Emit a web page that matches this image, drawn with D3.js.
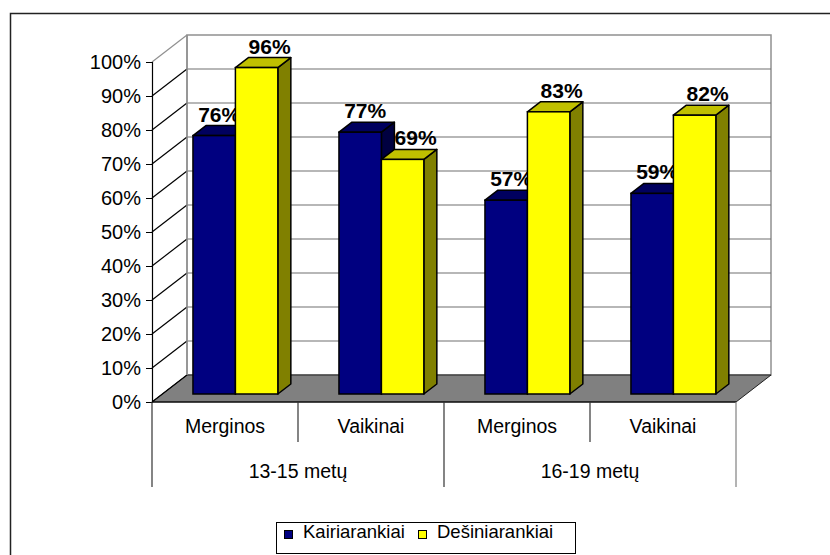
<!DOCTYPE html>
<meta charset="utf-8">
<head>
<script src="https://d3js.org/d3.v7.min.js"></script>
<style>
  body { margin: 0; background: #fff; }
  text { font-family: "Liberation Sans", Arial, sans-serif; fill: #000; }
</style>
</head>
<body>
<svg id="chart" width="830" height="555"></svg>
<script>
// data
var categories = ["Merginos", "Vaikinai", "Merginos", "Vaikinai"];
var groups = ["13-15 metų", "16-19 metų"];
var series = ["Kairiarankiai", "Dešiniarankiai"];
var kairiarankiai = [0.76, 0.77, 0.57, 0.59];
var desiniarankiai = [0.96, 0.69, 0.83, 0.82];
var yTicks = [0, 0.1, 0.2, 0.3, 0.4, 0.5, 0.6, 0.7, 0.8, 0.9, 1];

var values = [kairiarankiai, desiniarankiai];
var colors = [
  { front: "#000080", top: "#00005e", side: "#000040" },
  { front: "#ffff00", top: "#c0c000", side: "#808000" }
];

var svg = d3.select("#chart");

// outer frame (runs off the picture on the right and bottom)
svg.append("rect")
  .attr("x", 10.5).attr("y", 13.5)
  .attr("width", 900).attr("height", 700)
  .attr("fill", "none").attr("stroke", "#222").attr("stroke-width", 1.5);

// 3d depth of the walls
var depthX = 35, depthY = -27;
var left = 152, right = 736;

var y = d3.scaleLinear().domain([0, 1]).range([402, 62]);
var x = d3.scaleBand().domain(d3.range(categories.length)).range([left, right]);
var xs = d3.scaleBand().domain(d3.range(series.length))
  .range([0, x.bandwidth()]).paddingOuter(0.72);

// left wall
svg.append("path")
  .attr("d", d3.line()([[left, y(0)], [left, y(1)], [left + depthX, y(1) + depthY], [left + depthX, y(0) + depthY]]) + "Z")
  .attr("fill", "#fff");

// back wall
svg.append("rect")
  .attr("x", left + depthX).attr("y", y(1) + depthY)
  .attr("width", right - left).attr("height", y(0) - y(1))
  .attr("fill", "#fff").attr("stroke", "#909090").attr("stroke-width", 1.5);

// back wall gridlines
svg.append("g").selectAll("line")
  .data(yTicks.slice(1, -1))
  .enter().append("line")
  .attr("x1", left + depthX).attr("x2", right + depthX)
  .attr("y1", function (d) { return y(d) + depthY; })
  .attr("y2", function (d) { return y(d) + depthY; })
  .attr("stroke", "#707070").attr("stroke-width", 1.2);

// floor
svg.append("path")
  .attr("d", d3.line()([[left, y(0)], [left + depthX, y(0) + depthY], [right + depthX, y(0) + depthY], [right, y(0)]]) + "Z")
  .attr("fill", "#808080").attr("stroke", "#202020").attr("stroke-width", 1);

// side wall gridlines
svg.append("g").selectAll("line")
  .data(yTicks)
  .enter().append("line")
  .attr("x1", left).attr("x2", left + depthX)
  .attr("y1", function (d) { return y(d); })
  .attr("y2", function (d) { return y(d) + depthY; })
  .attr("stroke", function (d) { return d == 1 ? "#909090" : "#000"; })
  .attr("stroke-width", 1.2);
svg.append("line")
  .attr("x1", left + depthX).attr("x2", left + depthX)
  .attr("y1", y(1) + depthY).attr("y2", y(0) + depthY)
  .attr("stroke", "#909090").attr("stroke-width", 1.5);

// value axis
var yAxis = d3.axisLeft(y).tickValues(yTicks).tickSize(6).tickPadding(5)
  .tickFormat(d3.format(".0%"));
var gy = svg.append("g").attr("transform", "translate(" + left + ",0)").call(yAxis);
gy.select(".domain").attr("stroke", "#000").attr("stroke-width", 1.2);
gy.selectAll(".tick line").attr("stroke", "#000");
gy.selectAll("text").style("font-size", "20px").attr("fill", "#000")
  .style("font-family", "'Liberation Sans', Arial, sans-serif");

// bars
var barDX = 10.4, barDY = -8;   // front face sits this far into the floor
var topDX = 13, topDY = -10;    // bar depth
var labelShift = [5, 13];       // labels sit a little right of the front face
var bars = svg.append("g");
categories.forEach(function (c, i) {
  series.forEach(function (s, j) {
    var v = values[j][i];
    var x0 = x(i) + xs(j) + barDX;
    var w = xs.bandwidth();
    var yt = y(v) + barDY, yb = y(0) + barDY;
    var g = bars.append("g");
    g.append("path")
      .attr("d", d3.line()([[x0 + w, yb], [x0 + w, yt], [x0 + w + topDX, yt + topDY], [x0 + w + topDX, yb + topDY]]) + "Z")
      .attr("fill", colors[j].side).attr("stroke", "#000").attr("stroke-width", 1.5).attr("stroke-linejoin", "round");
    g.append("path")
      .attr("d", d3.line()([[x0, yt], [x0 + w, yt], [x0 + w + topDX, yt + topDY], [x0 + topDX, yt + topDY]]) + "Z")
      .attr("fill", colors[j].top).attr("stroke", "#000").attr("stroke-width", 1.5).attr("stroke-linejoin", "round");
    g.append("rect")
      .attr("x", x0).attr("y", yt).attr("width", w).attr("height", yb - yt)
      .attr("fill", colors[j].front).attr("stroke", "#000").attr("stroke-width", 1.5);
    g.append("text")
      .attr("x", x0 + w / 2 + labelShift[j]).attr("y", y(v) - 22)
      .attr("text-anchor", "middle")
      .style("font-size", "21px").style("font-weight", "bold")
      .text(d3.format(".0%")(v));
  });
});

// category axis
var axis = svg.append("g");
axis.append("line")
  .attr("x1", left).attr("x2", right).attr("y1", y(0)).attr("y2", y(0))
  .attr("stroke", "#000").attr("stroke-width", 1.2);
d3.range(categories.length + 1).forEach(function (i) {
  var xx = i < categories.length ? x(i) : right;
  axis.append("line")
    .attr("x1", xx).attr("x2", xx)
    .attr("y1", y(0)).attr("y2", i % 2 == 0 ? 487 : 442)
    .attr("stroke", i == categories.length ? "#808080" : "#333").attr("stroke-width", 1.2);
});
axis.selectAll("text.cat")
  .data(categories)
  .enter().append("text")
  .attr("class", "cat")
  .attr("x", function (d, i) { return x(i) + x.bandwidth() / 2; })
  .attr("y", 433)
  .attr("text-anchor", "middle")
  .style("font-size", "19.5px")
  .text(function (d) { return d; });
axis.selectAll("text.grp")
  .data(groups)
  .enter().append("text")
  .attr("class", "grp")
  .attr("x", function (d, i) { return x(i * 2) + x.bandwidth(); })
  .attr("y", 478)
  .attr("text-anchor", "middle")
  .style("font-size", "19.5px")
  .text(function (d) { return d; });

// legend
var legend = svg.append("g");
legend.append("rect")
  .attr("x", 276.5).attr("y", 522.5).attr("width", 299).attr("height", 31)
  .attr("fill", "#fff").attr("stroke", "#000").attr("stroke-width", 1);
var legendX = [284, 418];
series.forEach(function (s, j) {
  legend.append("rect")
    .attr("x", legendX[j] + 0.5).attr("y", 530.5).attr("width", 8).attr("height", 8)
    .attr("fill", colors[j].front).attr("stroke", "#000").attr("stroke-width", 1);
  legend.append("text")
    .attr("x", legendX[j] + 19).attr("y", 538)
    .style("font-size", "18.5px")
    .text(s);
});
</script>
</body>
